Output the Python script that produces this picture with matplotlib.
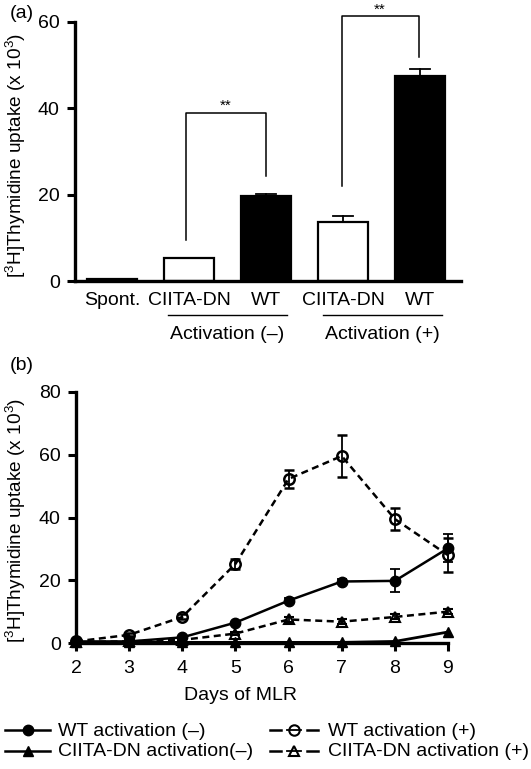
import matplotlib
matplotlib.use('Agg')
import matplotlib.pyplot as plt
from matplotlib.lines import Line2D

plt.rcParams['font.family'] = ['Liberation Sans', 'DejaVu Sans']
plt.rcParams['mathtext.fontset'] = 'custom'
plt.rcParams['mathtext.rm'] = 'Liberation Sans'
plt.rcParams['mathtext.it'] = 'Liberation Sans:italic'
plt.rcParams['font.size'] = 14

# panel (a) data
bar_labels = ['Spont.', 'CIITA-DN', 'WT', 'CIITA-DN', 'WT']
bar_values = [0.5, 5.4, 19.6, 13.7, 47.6]
bar_errors = [0.0, 0.0, 0.6, 1.3, 1.6]
bar_filled = [True, False, True, False, True]
group_labels = ['Activation (–)', 'Activation (+)']

# panel (b) data
days = [2, 3, 4, 5, 6, 7, 8, 9]
wt_minus = [0.5, 0.5, 1.8, 6.5, 13.5, 19.6, 19.8, 30.2]
wt_minus_err = [0, 0, 0, 0, 0.8, 0.8, 3.7, 4.5]
wt_plus = [0.5, 2.6, 8.3, 25.2, 52.3, 59.6, 39.5, 28.0]
wt_plus_err = [0, 0.5, 0.8, 1.5, 2.8, 6.8, 3.5, 5.5]
dn_minus = [0.2, 0.2, 0.2, 0.2, 0.2, 0.2, 0.5, 3.5]
dn_plus = [0.3, 0.5, 1.0, 3.0, 7.5, 6.8, 8.3, 10.0]
dn_plus_err = [0, 0, 0, 0.5, 0.8, 0.8, 0.8, 0.8]
legend_labels = ['WT activation (–)', 'WT activation (+)',
                 'CIITA-DN activation(–)', 'CIITA-DN activation (+)']

W, H = 531, 769
fig = plt.figure(figsize=(W / 100, H / 100), dpi=100)
ylabel = '[$^3$H]Thymidine uptake (x 10$^3$)'

# ---------- panel (a) ----------
ax1 = fig.add_axes([75 / W, 1 - 281 / H, 386 / W, 259 / H])
x = list(range(len(bar_values)))
for i in x:
    ax1.bar(i, bar_values[i], width=0.65,
            color='black' if bar_filled[i] else 'white',
            edgecolor='black', linewidth=1.6, zorder=2)
    if bar_errors[i] > 0:
        top = bar_values[i] + bar_errors[i]
        ax1.plot([i, i], [bar_values[i], top], color='black', lw=1.3, zorder=1)
        ax1.plot([i - 0.13, i + 0.13], [top, top], color='black', lw=1.3, zorder=1)

ax1.set_xlim(-0.48, 4.53)
ax1.set_ylim(0, 60)
ax1.set_yticks([0, 20, 40, 60])
ax1.set_xticks(x)
ax1.set_xticklabels(bar_labels)
ax1.tick_params(axis='x', length=0, pad=8)
ax1.tick_params(axis='y', direction='out', length=6, width=2.2, pad=5)
for s in ['top', 'right']:
    ax1.spines[s].set_visible(False)
for s in ['left', 'bottom']:
    ax1.spines[s].set_linewidth(2.4)
ax1.set_ylabel(ylabel, fontsize=13.7)
ax1.yaxis.set_label_coords(-0.122, 0.485)

# significance brackets
def bracket(ax, x0, x1, y0, y1, ytop):
    ax.plot([x0, x0, x1, x1], [y0, ytop, ytop, y1], color='black', lw=1.1, clip_on=False)
    ax.text((x0 + x1) / 2, ytop + 1.6, '**', ha='center', va='center', fontsize=11, clip_on=False)

bracket(ax1, 0.96, 2.0, 9.5, 24.3, 38.9)
bracket(ax1, 2.98, 3.98, 22.0, 51.9, 61.3)

# group underlines and labels
trans = ax1.get_xaxis_transform()
for g, (a, b) in enumerate([(0.73, 2.27), (2.74, 4.28)]):
    ax1.plot([a, b], [-0.131, -0.131], color='black', lw=1.0, transform=trans, clip_on=False)
    ax1.text((a + b) / 2, -0.207, group_labels[g], ha='center', va='center', transform=trans)

fig.text(10 / W, 1 - 13 / H, '(a)', ha='left', va='center')

# ---------- panel (b) ----------
ax2 = fig.add_axes([76 / W, 1 - 643 / H, 372 / W, 251 / H])
dash = (0, (2.8, 1.8))
kw = dict(color='black', lw=1.8, ms=7.5, clip_on=False, capsize=3.5, elinewidth=1.3, capthick=1.3)
ax2.errorbar(days, wt_plus, yerr=wt_plus_err, fmt='o', ls=dash, mfc='none', mew=1.8, zorder=3, **kw)
ax2.errorbar(days, dn_plus, yerr=dn_plus_err, fmt='^', ls=dash, mfc='none', mew=1.5, zorder=3, **kw)
ax2.errorbar(days, wt_minus, yerr=wt_minus_err, fmt='o', ls='-', mfc='black', zorder=4, **kw)
ax2.plot(days, dn_minus, marker='^', ls='-', color='black', lw=2.0, ms=7.5, clip_on=False, zorder=4)

ax2.set_xlim(2, 9)
ax2.set_ylim(0, 80)
ax2.set_xticks(days)
ax2.set_yticks([0, 20, 40, 60, 80])
ax2.tick_params(direction='out', length=6, width=2.2, pad=5)
ax2.tick_params(axis='x', pad=6)
for s in ['top', 'right']:
    ax2.spines[s].set_visible(False)
for s in ['left', 'bottom']:
    ax2.spines[s].set_linewidth(2.4)
ax2.set_ylabel(ylabel, fontsize=13.7)
ax2.yaxis.set_label_coords(-0.129, 0.49)
ax2.set_xlabel('Days of MLR')
ax2.xaxis.set_label_coords(0.4435, -0.175)

fig.text(10 / W, 1 - 365 / H, '(b)', ha='left', va='center')

# legend drawn by hand: solid entries on the left, dashed on the right
def fx(px):
    return px / W

def fy(px):
    return 1 - px / H

rows = [730, 751]
markers = ['o', '^']
for r, yy in enumerate(rows):
    # solid, filled
    fig.add_artist(Line2D([fx(5), fx(50)], [fy(yy), fy(yy)], color='black', lw=1.8))
    fig.add_artist(Line2D([fx(27.5)], [fy(yy)], marker=markers[r], color='black', ms=7.5))
    fig.text(fx(58), fy(yy + 1), legend_labels[2 * r], ha='left', va='center')
    # dashed, open
    fig.add_artist(Line2D([fx(270), fx(281)], [fy(yy), fy(yy)], color='black', lw=1.8))
    fig.add_artist(Line2D([fx(307), fx(318)], [fy(yy), fy(yy)], color='black', lw=1.8))
    fig.add_artist(Line2D([fx(287), fx(301)], [fy(yy), fy(yy)], color='black', lw=1.3))
    fig.add_artist(Line2D([fx(294)], [fy(yy)], marker=markers[r], color='black',
                          mfc='none', mew=1.5, ms=7.5))
    fig.text(fx(328), fy(yy + 1), legend_labels[2 * r + 1], ha='left', va='center')

fig.savefig('out.png', dpi=100)
